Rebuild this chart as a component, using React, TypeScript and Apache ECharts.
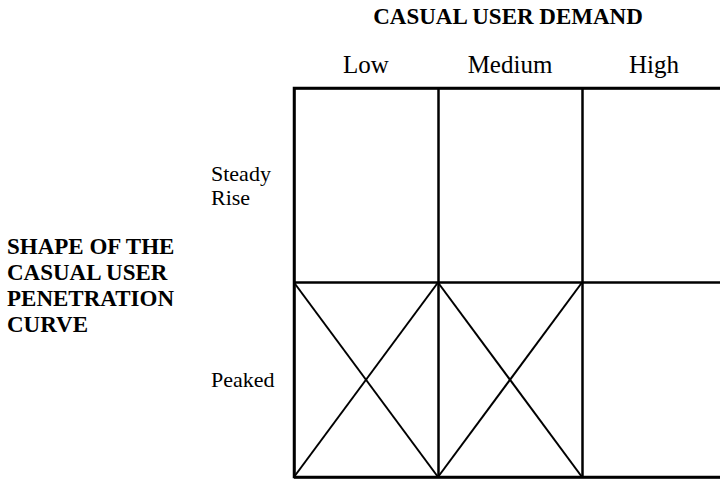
import React, { useEffect, useRef } from "react";
import * as echarts from "echarts";

const demandLevels = ["Low", "Medium", "High"];
const curveShapes = ["Steady\nRise", "Peaked"];
// cells marked with an X: [demand index, shape index]
const markedCells = [
  [0, 1],
  [1, 1],
];
const topTitle = "CASUAL USER DEMAND";
const sideTitle = "SHAPE OF THE\nCASUAL USER\nPENETRATION\nCURVE";

const FONT = "Liberation Serif";

export default function App() {
  const ref = useRef<HTMLDivElement>(null);
  useEffect(() => {
    if (!ref.current) return;
    const chart = echarts.init(ref.current, null, { renderer: "svg" });
    chart.setOption({
      animation: false,
      backgroundColor: "#ffffff",
      grid: {
        left: 294,
        right: 10,
        top: 88,
        bottom: 3,
        show: true,
        borderColor: "#000",
        borderWidth: 2.5,
        backgroundColor: "transparent",
      },
      xAxis: {
        type: "category",
        position: "top",
        data: demandLevels,
        boundaryGap: true,
        axisLine: { show: false },
        axisTick: { show: false },
        axisLabel: {
          interval: 0,
          margin: 11,
          color: "#000",
          fontFamily: FONT,
          fontSize: 25,
        },
        splitLine: { show: true, interval: 0, lineStyle: { color: "#000", width: 2.5 } },
      },
      yAxis: {
        type: "category",
        inverse: true,
        data: curveShapes,
        boundaryGap: true,
        axisLine: { show: false },
        axisTick: { show: false },
        axisLabel: {
          interval: 0,
          margin: 83,
          align: "left",
          color: "#000",
          fontFamily: FONT,
          fontSize: 22,
          lineHeight: 24,
        },
        splitLine: { show: true, interval: 0, lineStyle: { color: "#000", width: 2.5 } },
      },
      graphic: [
        {
          type: "text",
          x: 508,
          y: 16,
          style: {
            text: topTitle,
            fill: "#000",
            fontFamily: FONT,
            fontWeight: "bold",
            fontSize: 23,
            align: "center",
            verticalAlign: "middle",
          },
        },
        {
          type: "text",
          x: 7,
          y: 285,
          style: {
            text: sideTitle,
            fill: "#000",
            fontFamily: FONT,
            fontWeight: "bold",
            fontSize: 23,
            lineHeight: 26,
            align: "left",
            verticalAlign: "middle",
          },
        },
      ],
      series: [
        {
          type: "custom",
          data: markedCells,
          renderItem: (params: any, api: any) => {
            const c = api.coord([api.value(0), api.value(1)]);
            const s = api.size([1, 1]);
            const x0 = c[0] - s[0] / 2;
            const x1 = c[0] + s[0] / 2;
            const y0 = c[1] - s[1] / 2;
            const y1 = c[1] + s[1] / 2;
            const style = { stroke: "#000", lineWidth: 2 };
            return {
              type: "group",
              children: [
                { type: "line", shape: { x1: x0, y1: y0, x2: x1, y2: y1 }, style },
                { type: "line", shape: { x1: x1, y1: y0, x2: x0, y2: y1 }, style },
              ],
            };
          },
        },
      ],
    });
    return () => chart.dispose();
  }, []);
  return (
    <div
      style={{ position: "fixed", left: 0, top: 0, width: 720, height: 480, overflow: "hidden", background: "#fff" }}
    >
      <div ref={ref} style={{ width: 736, height: 480 }} />
    </div>
  );
}
